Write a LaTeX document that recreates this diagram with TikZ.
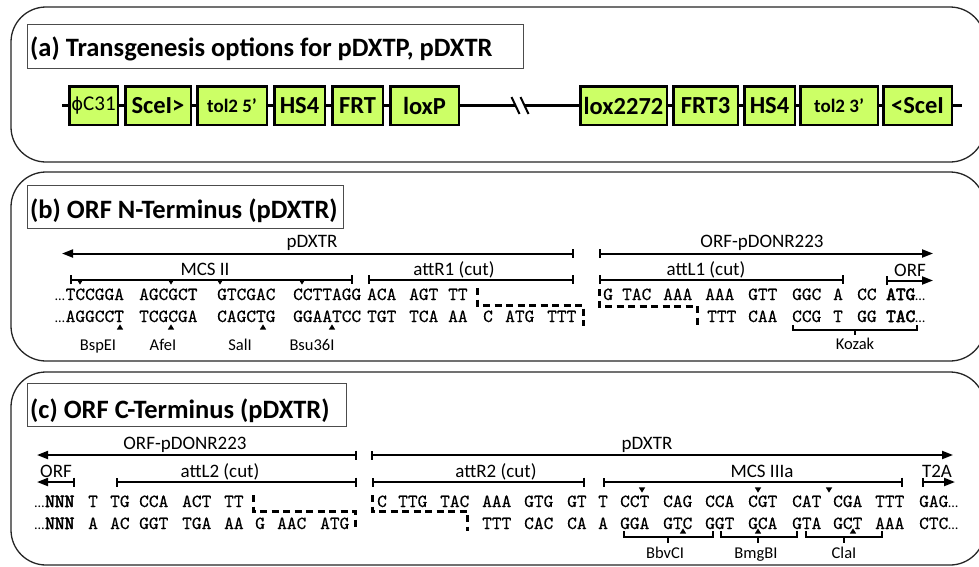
\documentclass[tikz,border=0pt]{standalone}
\usepackage{fontspec}
\setmainfont{Carlito}
\newfontfamily\djv{DejaVu Sans}
\newfontfamily\seqreg{lmmono10-regular.otf}[FakeBold=0.5]
\newfontfamily\seqbold{lmmono10-regular.otf}[FakeBold=3]
\usetikzlibrary{arrows.meta}
\definecolor{genegreen}{HTML}{CCFF66}
\newcommand\dntri[2]{\fill (#1-3.2,#2-2.6) -- (#1+3.2,#2-2.6) -- (#1,#2+2.6) -- cycle;}
\newcommand\uptri[2]{\fill (#1-3.2,#2+2.6) -- (#1+3.2,#2+2.6) -- (#1,#2-2.6) -- cycle;}
\newcommand\myellip{{\normalfont\fontsize{14}{16}\selectfont …}}
\newcommand\bseq[1]{{\seqbold #1}}
\begin{document}
\begin{tikzpicture}[x=1pt,y=-1pt,
 panel/.style={draw=black!85, line width=1.3pt, rounded corners=35pt},
 titlebox/.style={draw=black!70, line width=1pt},
 titletext/.style={font=\bfseries\fontsize{26.5}{30}\selectfont, anchor=base west, inner sep=0pt},
 gene/.style={draw=black, line width=2.5pt, fill=genegreen, inner sep=0pt, minimum height=38.5pt, font=\bfseries\fontsize{24.5}{24}\selectfont},
 backbone/.style={line width=3.5pt},
 lab/.style={font=\fontsize{19}{22}\selectfont, anchor=base, inner sep=0pt},
 seq/.style={font=\seqreg\fontsize{18.5}{20}\selectfont, anchor=base west, inner sep=0pt},
 dotsf/.style={font=\fontsize{14}{16}\selectfont, anchor=base west, inner sep=0pt},
 enz/.style={font=\fontsize{16.5}{19}\selectfont, anchor=base, inner sep=0pt},
 span/.style={line width=2pt, {Bar[width=9pt]}-{Bar[width=9pt]}},
 larrow/.style={line width=2pt, {Triangle[length=11pt,width=8pt]}-{Bar[width=9pt]}},
 rarrow/.style={line width=2pt, {Bar[width=9pt]}-{Triangle[length=11pt,width=8pt]}},
 cutline/.style={line width=3pt, dash pattern=on 7pt off 4.5pt},
 brace/.style={line width=1.1pt},
]
\useasboundingbox (0,0) rectangle (979,566);
\clip (0,0) rectangle (979,566);
\fill[white] (0,0) rectangle (979,566);

% ---------- panels
\draw[panel] (11,7) rectangle (985,162);
\draw[panel] (11,172) rectangle (985,361);
\draw[panel] (11,372) rectangle (985,565);

% ---------- titles
\draw[titlebox] (27,24) rectangle (523,68);
\node[titletext] (ta) at (30,56) {(a) Transgenesis options for pDXTP, pDXTR};
\draw[titlebox] (27,185) rectangle (343,228);
\node[titletext] (tb) at (30,218) {(b) ORF N-Terminus (pDXTR)};
\draw[titlebox] (27,383) rectangle (346,426);
\node[titletext] (tc) at (30,418) {(c) ORF C-Terminus (pDXTR)};

% ---------- panel (a) genes
\node[gene, minimum width=48.5pt, font=\fontsize{21}{21}\selectfont] (g1) at (93.5,105.5) {{\djv\fontsize{18}{18}\selectfont ϕ}C31};
\node[gene, minimum width=65.5pt] (g2) at (158,105.5) {SceI>};
\node[gene, minimum width=69.5pt, font=\bfseries\fontsize{19}{19}\selectfont] (g3) at (232,105.5) {tol2 5’};
\node[gene, minimum width=50.5pt] (g4) at (299.5,105.5) {HS4};
\node[gene, minimum width=50.5pt] (g5) at (357.5,105.5) {FRT};
\node[gene, minimum width=68.5pt] (g6) at (424.5,105.5) {loxP};
\node[gene, minimum width=86.5pt] (g7) at (623.5,105.5) {lox2272};
\node[gene, minimum width=64.5pt] (g8) at (705.5,105.5) {FRT3};
\node[gene, minimum width=50.5pt] (g9) at (769.5,105.5) {HS4};
\node[gene, minimum width=77.5pt, font=\bfseries\fontsize{19}{19}\selectfont] (g10) at (839,105.5) {tol2 3’};
\node[gene, minimum width=68.5pt] (g11) at (917.5,105.5) {<SceI};
\coordinate (bbL) at (62,105.5);
\coordinate (bbR) at (962,105.5);
\coordinate (brkL) at (516,105.5);
\coordinate (brkR) at (524,105.5);
\draw[backbone] (bbL) -- (g1.west);
\draw[backbone] (g1.east) -- (g2.west);
\draw[backbone] (g2.east) -- (g3.west);
\draw[backbone] (g3.east) -- (g4.west);
\draw[backbone] (g4.east) -- (g5.west);
\draw[backbone] (g5.east) -- (g6.west);
\draw[backbone] (g6.east) -- (brkL);
\draw[backbone] (brkR) -- (g7.west);
\draw[backbone] (g7.east) -- (g8.west);
\draw[backbone] (g8.east) -- (g9.west);
\draw[backbone] (g9.east) -- (g10.west);
\draw[backbone] (g10.east) -- (g11.west);
\draw[backbone] (g11.east) -- (bbR);
\draw[line width=2pt] (511.5,97) -- (519.5,114);
\draw[line width=2pt] (520.5,97) -- (528.5,114);

% ---------- panel (b) spans
\coordinate (b1a) at (62,253.5);  \coordinate (b1b) at (574,253.5);
\coordinate (b2a) at (599,253.5); \coordinate (b2b) at (933,253.5);
\coordinate (b3a) at (70,279.5);  \coordinate (b3b) at (353,279.5);
\coordinate (b4a) at (368,279.5); \coordinate (b4b) at (574,279.5);
\coordinate (b5a) at (599,279.5); \coordinate (b5b) at (844,279.5);
\coordinate (b6a) at (886,280.5); \coordinate (b6b) at (933,280.5);
\draw[larrow] (b1a) -- (b1b);
\draw[rarrow] (b2a) -- (b2b);
\draw[span] (b3a) -- (b3b);
\draw[span] (b4a) -- (b4b);
\draw[span] (b5a) -- (b5b);
\draw[rarrow] (b6a) -- (b6b);
\node[lab] (lb1) at (312,247) {pDXTR};
\node[lab] (lb2) at (762,247) {ORF-pDONR223};
\node[lab] (lb3) at (205,275) {MCS II};
\node[lab] (lb4) at (454,275) {attR1 (cut)};
\node[lab] (lb5) at (706,275) {attL1 (cut)};
\node[lab] (lb6) at (910,276) {ORF};

% panel (b) sequences
\node[dotsf] (bd1) at (55,300) {…};
\node[dotsf] (bd2) at (55,322) {…};
\foreach \x/\t [count=\i] in {65.5/TCCGGA,139/AGCGCT,217/GTCGAC,293/CCTTAGG,367/ACA,409/AGT,448/TT,603/G,622/TAC,663/AAA,705/AAA,748/GTT,792/GGC,833/A,857/CC}
  \node[seq] (bt\i) at (\x,300) {\t};
\node[seq] (btE) at (886,300) {\bseq{ATG}\myellip};
\foreach \x/\t [count=\i] in {65.5/AGGCCT,139/TCGCGA,217/CAGCTG,293/GGAATCC,367/TGT,409/TCA,448/AA,483/C,505/ATG,547/TTT,707/TTT,748/CAA,792/CCG,833/T,857/GG}
  \node[seq] (bb\i) at (\x,322) {\t};
\node[seq] (bbE) at (886,322) {\bseq{TAC}\myellip};
\draw[cutline] (477,288) -- (477,305) -- (583,305) -- (583,326);
\draw[cutline] (599,289) -- (599,306) -- (697,306) -- (697,326);
\dntri{80}{282} \dntri{171}{282} \dntri{220}{282} \dntri{302}{282}
\uptri{120}{327} \uptri{171}{327} \uptri{263}{327} \uptri{332}{327}
\node[enz] (eb1) at (98,350) {BspEI};
\node[enz] (eb2) at (163,350) {AfeI};
\node[enz] (eb3) at (240,350) {SalI};
\node[enz] (eb4) at (312,350) {Bsu36I};
\draw[brace] (793,325) -- (793,330) -- (917,330) -- (917,325);
\draw[brace] (855,330) -- (855,335);
\node[enz] (kz) at (855,349) {Kozak};

% ---------- panel (c) spans
\coordinate (c1a) at (37,455);  \coordinate (c1b) at (357,455);
\coordinate (c2a) at (371,455); \coordinate (c2b) at (953,455);
\coordinate (c3a) at (37,482);  \coordinate (c3b) at (75,482);
\coordinate (c4a) at (116,482); \coordinate (c4b) at (357,482);
\coordinate (c5a) at (372,482); \coordinate (c5b) at (585,482);
\coordinate (c6a) at (603,482); \coordinate (c6b) at (903,482);
\coordinate (c7a) at (922,482); \coordinate (c7b) at (955,482);
\draw[larrow] (c1a) -- (c1b);
\draw[rarrow] (c2a) -- (c2b);
\draw[larrow] (c3a) -- (c3b);
\draw[span] (c4a) -- (c4b);
\draw[span] (c5a) -- (c5b);
\draw[span] (c6a) -- (c6b);
\draw[rarrow] (c7a) -- (c7b);
\node[lab] (lc1) at (185,449) {ORF-pDONR223};
\node[lab] (lc2) at (647,449) {pDXTR};
\node[lab] (lc3) at (56,477) {ORF};
\node[lab] (lc4) at (220,477) {attL2 (cut)};
\node[lab] (lc5) at (496,477) {attR2 (cut)};
\node[lab] (lc6) at (762,477) {MCS IIIa};
\node[lab] (lc7) at (937,477) {T2A};

% panel (c) sequences
\node[dotsf] (cd1) at (34.5,507) {…};
\node[dotsf] (cd2) at (34.5,529) {…};
\node[seq] (ctN) at (45,507) {\bseq{NNN}};
\node[seq] (cbN) at (45,529) {\bseq{NNN}};
\foreach \x/\t [count=\i] in {88/T,110/TG,139/CCA,182/ACT,224/TT,377/C,398/TTG,440/TAC,482/AAA,524/GTG,567/GT,598/T,620/CCT,663/CAG,705/CCA,748/CGT,792/CAT,833/CGA,875/TTT}
  \node[seq] (ct\i) at (\x,507) {\t};
\node[seq] (ctE) at (919,507) {GAG\myellip};
\foreach \x/\t [count=\i] in {88/A,110/AC,139/GGT,182/TGA,224/AA,255/G,277/AAC,320/ATG,482/TTT,524/CAC,567/CA,598/A,620/GGA,663/GTC,705/GGT,748/GCA,792/GTA,833/GCT,875/AAA}
  \node[seq] (cb\i) at (\x,529) {\t};
\node[seq] (cbE) at (919,529) {CTC\myellip};
\draw[cutline] (253,495) -- (253,511) -- (355,511) -- (355,531);
\draw[cutline] (372,495) -- (372,511) -- (467,511) -- (467,531);
\dntri{642}{490} \dntri{758}{490} \dntri{829}{490}
\uptri{683}{531} \uptri{758}{531} \uptri{853}{531}
\draw[brace] (624,531) -- (624,537) -- (713,537) -- (713,531);
\draw[brace] (668,537) -- (668,543);
\draw[brace] (721,531) -- (721,537) -- (797,537) -- (797,531);
\draw[brace] (758,537) -- (758,543);
\draw[brace] (806,531) -- (806,537) -- (882,537) -- (882,531);
\draw[brace] (844,537) -- (844,543);
\node[enz] (ec1) at (665,558) {BbvCI};
\node[enz] (ec2) at (756,558) {BmgBI};
\node[enz] (ec3) at (844,558) {ClaI};
\end{tikzpicture}
\end{document}
